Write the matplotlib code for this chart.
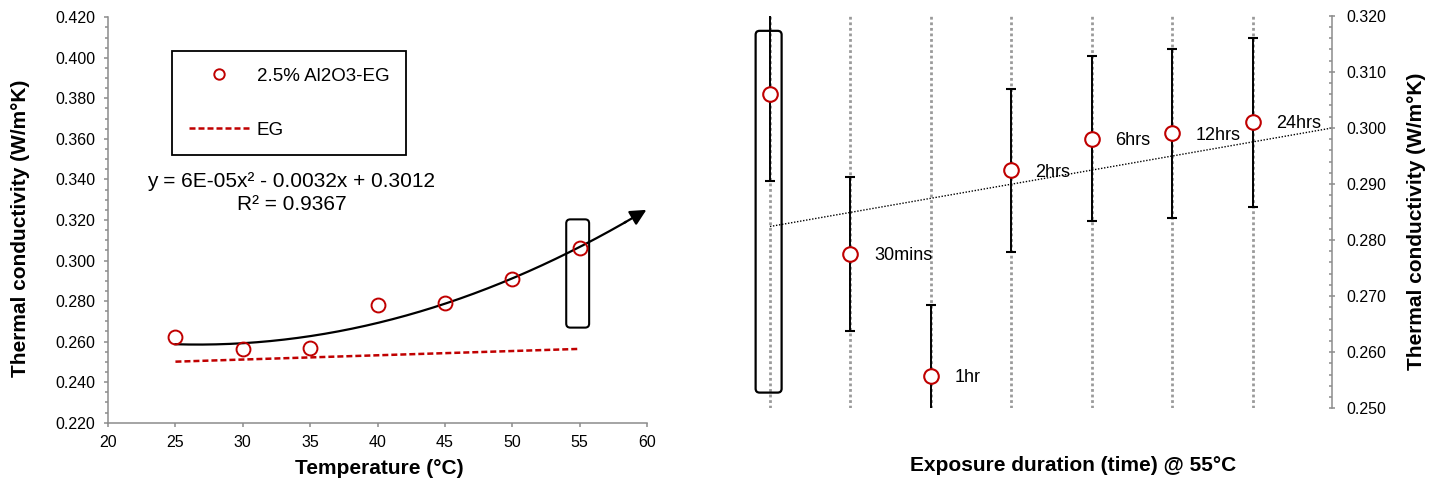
import numpy as np
import matplotlib
matplotlib.use("Agg")
import matplotlib.pyplot as plt
from matplotlib.patches import FancyBboxPatch
from matplotlib.lines import Line2D
from matplotlib.ticker import MultipleLocator, FormatStrFormatter

plt.rcParams['font.family'] = ['Liberation Sans', 'DejaVu Sans']

# thermal conductivity vs temperature, 2.5% Al2O3-EG
temps = [25, 30, 35, 40, 45, 50, 55]
k_nanofluid = [0.2624, 0.2562, 0.2567, 0.2779, 0.2789, 0.2910, 0.3060]

# base fluid reference
eg_temps = [25, 55]
k_eg = [0.2501, 0.2564]

# polynomial trendline (order 2)
fit_coeffs = [6e-05, -0.0032, 0.3012]
fit_r2 = 0.9367

# exposure duration at 55 C
durations = ['', '30mins', '1hr', '2hrs', '6hrs', '12hrs', '24hrs']
k_exposure = [0.3060, 0.2775, 0.2557, 0.2924, 0.2981, 0.2990, 0.3010]
k_exposure_err = [0.0154, 0.0138, 0.0128, 0.0146, 0.0147, 0.0150, 0.0151]

red = '#c00000'
grey = '#8c8c8c'

fig = plt.figure(figsize=(14.37, 4.84), dpi=100)

# ---- left panel: temperature sweep ----
ax1 = fig.add_axes([0.0752, 0.1267, 0.3751, 0.8376])

ax1.plot(eg_temps, k_eg, color=red, lw=1.8, ls=(0, (2.4, 1.2)))

xs = np.linspace(25, 58.4, 200)
ax1.plot(xs, np.polyval(fit_coeffs, xs), color='black', lw=1.6)
ax1.annotate('', xy=(59.95, np.polyval(fit_coeffs, 59.95)),
             xytext=(58.3, np.polyval(fit_coeffs, 58.3)),
             arrowprops=dict(arrowstyle='-|>', color='black', lw=1.6,
                             mutation_scale=24, shrinkA=0, shrinkB=0))

ax1.plot(temps, k_nanofluid, ls='none', marker='o', ms=10, mfc='none',
         mec=red, mew=1.4, zorder=3)

ax1.add_patch(FancyBboxPatch((54.0, 0.2669), 1.7, 0.0534,
                             boxstyle='round,pad=0,rounding_size=0.3',
                             mutation_aspect=0.0066, fc='none', ec='black', lw=1.5))

eq = "y = {:.0E}x\u00b2 - {:.4f}x + {:.4f}\nR\u00b2 = {:.4f}".format(
    fit_coeffs[0], abs(fit_coeffs[1]), fit_coeffs[2], fit_r2)
ax1.text(33.6, 0.3332, eq, fontsize=15, ha='center', va='center',
         multialignment='center', linespacing=1.25)

h_np = Line2D([], [], ls='none', marker='o', ms=10, mfc='none', mec=red, mew=1.4)
h_eg = Line2D([], [], color=red, lw=1.8, ls=(0, (2.4, 1.2)))
leg = ax1.legend([h_np, h_eg], ['2.5% Al2O3-EG', 'EG'], loc='upper left',
                 bbox_to_anchor=(0.1193, 0.917), borderaxespad=0, fancybox=False,
                 edgecolor='black', framealpha=1, fontsize=13.5, handlelength=3.2,
                 handletextpad=0.4, borderpad=0.9, labelspacing=1.95, markerscale=0.75)
leg.get_frame().set_linewidth(1.3)

ax1.set_xlim(20, 60)
ax1.set_ylim(0.22, 0.42)
ax1.xaxis.set_major_locator(MultipleLocator(5))
ax1.yaxis.set_major_locator(MultipleLocator(0.02))
ax1.yaxis.set_minor_locator(MultipleLocator(0.005))
ax1.yaxis.set_major_formatter(FormatStrFormatter('%.3f'))
for s in ['top', 'right']:
    ax1.spines[s].set_visible(False)
for s in ['left', 'bottom']:
    ax1.spines[s].set_color(grey)
    ax1.spines[s].set_linewidth(1.1)
ax1.tick_params(axis='both', which='major', direction='out', length=3,
                width=1.1, color=grey, labelsize=11.5, pad=6)
ax1.tick_params(axis='y', which='minor', direction='out', length=2.2,
                width=1.1, color=grey)

# ---- right panel: exposure duration ----
ax2 = fig.add_axes([0.5078, 0.1564, 0.4189, 0.8112])
pos = np.arange(len(durations))

for p in pos:
    ax2.axvline(p, color='#9a9a9a', lw=2.0, ls=(0, (1, 1)), zorder=0)

slope, icpt = np.polyfit(pos, k_exposure, 1)
xt = np.array([0, 6.98])
ax2.plot(xt, slope * xt + icpt, color='black', lw=1.0, ls=(0, (1, 1.2)), zorder=1)

ax2.errorbar(pos, k_exposure, yerr=k_exposure_err, fmt='o', ms=10.5, mfc='white',
             mec=red, mew=1.5, ecolor='black', elinewidth=1.4, capsize=3.3,
             capthick=1.4, zorder=3)

for p, lab, v in zip(pos, durations, k_exposure):
    if lab:
        ax2.annotate(lab, (p, v), xytext=(17, -1.2), textcoords='offset points',
                     ha='left', va='center', fontsize=13)

ax2.add_patch(FancyBboxPatch((-0.178, 0.2528), 0.323, 0.0645,
                             boxstyle='round,pad=0,rounding_size=0.05',
                             mutation_aspect=0.01426, fc='none', ec='black', lw=1.6,
                             zorder=2))

ax2.set_xlim(-0.5, 6.98)
ax2.set_ylim(0.25, 0.32)
ax2.set_xticks([])
ax2.yaxis.tick_right()
ax2.yaxis.set_major_locator(MultipleLocator(0.01))
ax2.yaxis.set_minor_locator(MultipleLocator(0.002))
ax2.yaxis.set_major_formatter(FormatStrFormatter('%.3f'))
for s in ['top', 'left', 'bottom']:
    ax2.spines[s].set_visible(False)
ax2.spines['right'].set_color(grey)
ax2.spines['right'].set_linewidth(1.1)
ax2.tick_params(axis='y', which='major', direction='inout', length=5,
                width=1.1, color=grey, labelsize=11.5, pad=8)
ax2.tick_params(axis='y', which='minor', direction='in', length=2.5,
                width=1.1, color=grey)

# axis titles
fig.text(0.0146, 0.528, 'Thermal conductivity (W/m\u00b0K)', rotation=90,
         fontsize=15, fontweight='bold', ha='center', va='center')
fig.text(0.2641, 0.031, 'Temperature (\u00b0C)', fontsize=15, fontweight='bold',
         ha='center', va='center')
fig.text(0.9857, 0.5434, 'Thermal conductivity (W/m\u00b0K)', rotation=90,
         fontsize=15, fontweight='bold', ha='center', va='center')
fig.text(0.7467, 0.039, 'Exposure duration (time) @ 55\u00b0C', fontsize=15,
         fontweight='bold', ha='center', va='center')

fig.savefig('out.png', dpi=100)
